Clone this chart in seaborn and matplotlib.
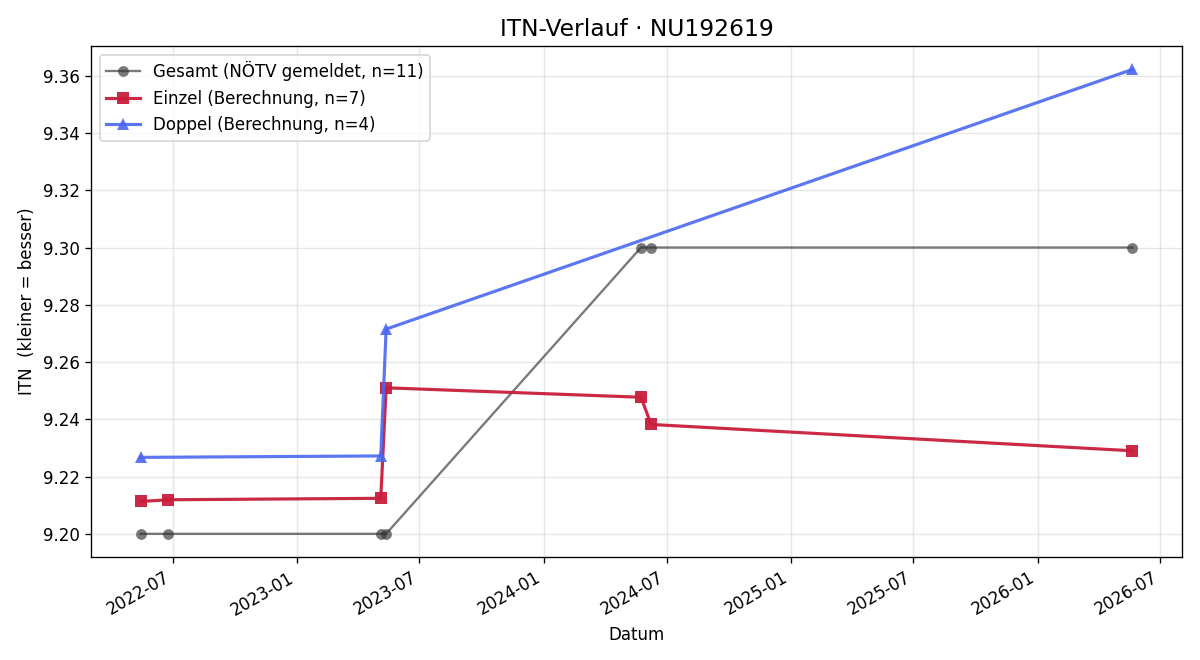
import pandas as pd
import matplotlib
matplotlib.use('Agg')
import matplotlib.pyplot as plt
import matplotlib.dates as mdates
import seaborn as sns

# Gesamt (NÖTV gemeldet)
gesamt_datum = ['2022-05-15', '2022-06-25', '2023-05-05', '2023-05-13',
                '2024-05-24', '2024-06-08', '2026-05-21']
gesamt_itn = [9.20, 9.20, 9.20, 9.20, 9.30, 9.30, 9.30]

# Einzel (Berechnung)
einzel_datum = ['2022-05-15', '2022-06-25', '2023-05-05', '2023-05-13',
                '2024-05-24', '2024-06-08', '2026-05-21']
einzel_itn = [9.2113, 9.2119, 9.2124, 9.2510, 9.2477, 9.2382, 9.2290]

# Doppel (Berechnung)
doppel_datum = ['2022-05-15', '2023-05-05', '2023-05-13', '2026-05-21']
doppel_itn = [9.2267, 9.2272, 9.2715, 9.3622]

df_g = pd.DataFrame({'Datum': pd.to_datetime(gesamt_datum), 'ITN': gesamt_itn})
df_e = pd.DataFrame({'Datum': pd.to_datetime(einzel_datum), 'ITN': einzel_itn})
df_d = pd.DataFrame({'Datum': pd.to_datetime(doppel_datum), 'ITN': doppel_itn})

fig, ax = plt.subplots(figsize=(10, 5.5), dpi=120)

sns.lineplot(data=df_g, x='Datum', y='ITN', ax=ax, estimator=None, sort=False,
             color='#333333', alpha=0.65, linewidth=1.4, marker='o', markersize=6.5,
             markeredgewidth=0, label='Gesamt (NÖTV gemeldet, n=11)')
sns.lineplot(data=df_e, x='Datum', y='ITN', ax=ax, estimator=None, sort=False,
             color='#c81e3c', alpha=0.95, linewidth=1.9, marker='s', markersize=7,
             markeredgewidth=0, label='Einzel (Berechnung, n=7)')
sns.lineplot(data=df_d, x='Datum', y='ITN', ax=ax, estimator=None, sort=False,
             color='#4a68f0', alpha=0.9, linewidth=1.9, marker='^', markersize=7,
             markeredgewidth=0, label='Doppel (Berechnung, n=4)')

ax.set_title('ITN-Verlauf · NU192619', fontsize=14)
ax.set_xlabel('Datum')
ax.set_ylabel('ITN  (kleiner = besser)')
ax.xaxis.set_major_locator(mdates.MonthLocator(bymonth=[1, 7]))
ax.xaxis.set_major_formatter(mdates.DateFormatter('%Y-%m'))
plt.setp(ax.get_xticklabels(), rotation=30, ha='right')
ax.grid(True, alpha=0.3)
ax.legend(loc='upper left')

fig.subplots_adjust(left=0.076, right=0.985, top=0.93, bottom=0.156)
fig.savefig('out.png', dpi=120)
